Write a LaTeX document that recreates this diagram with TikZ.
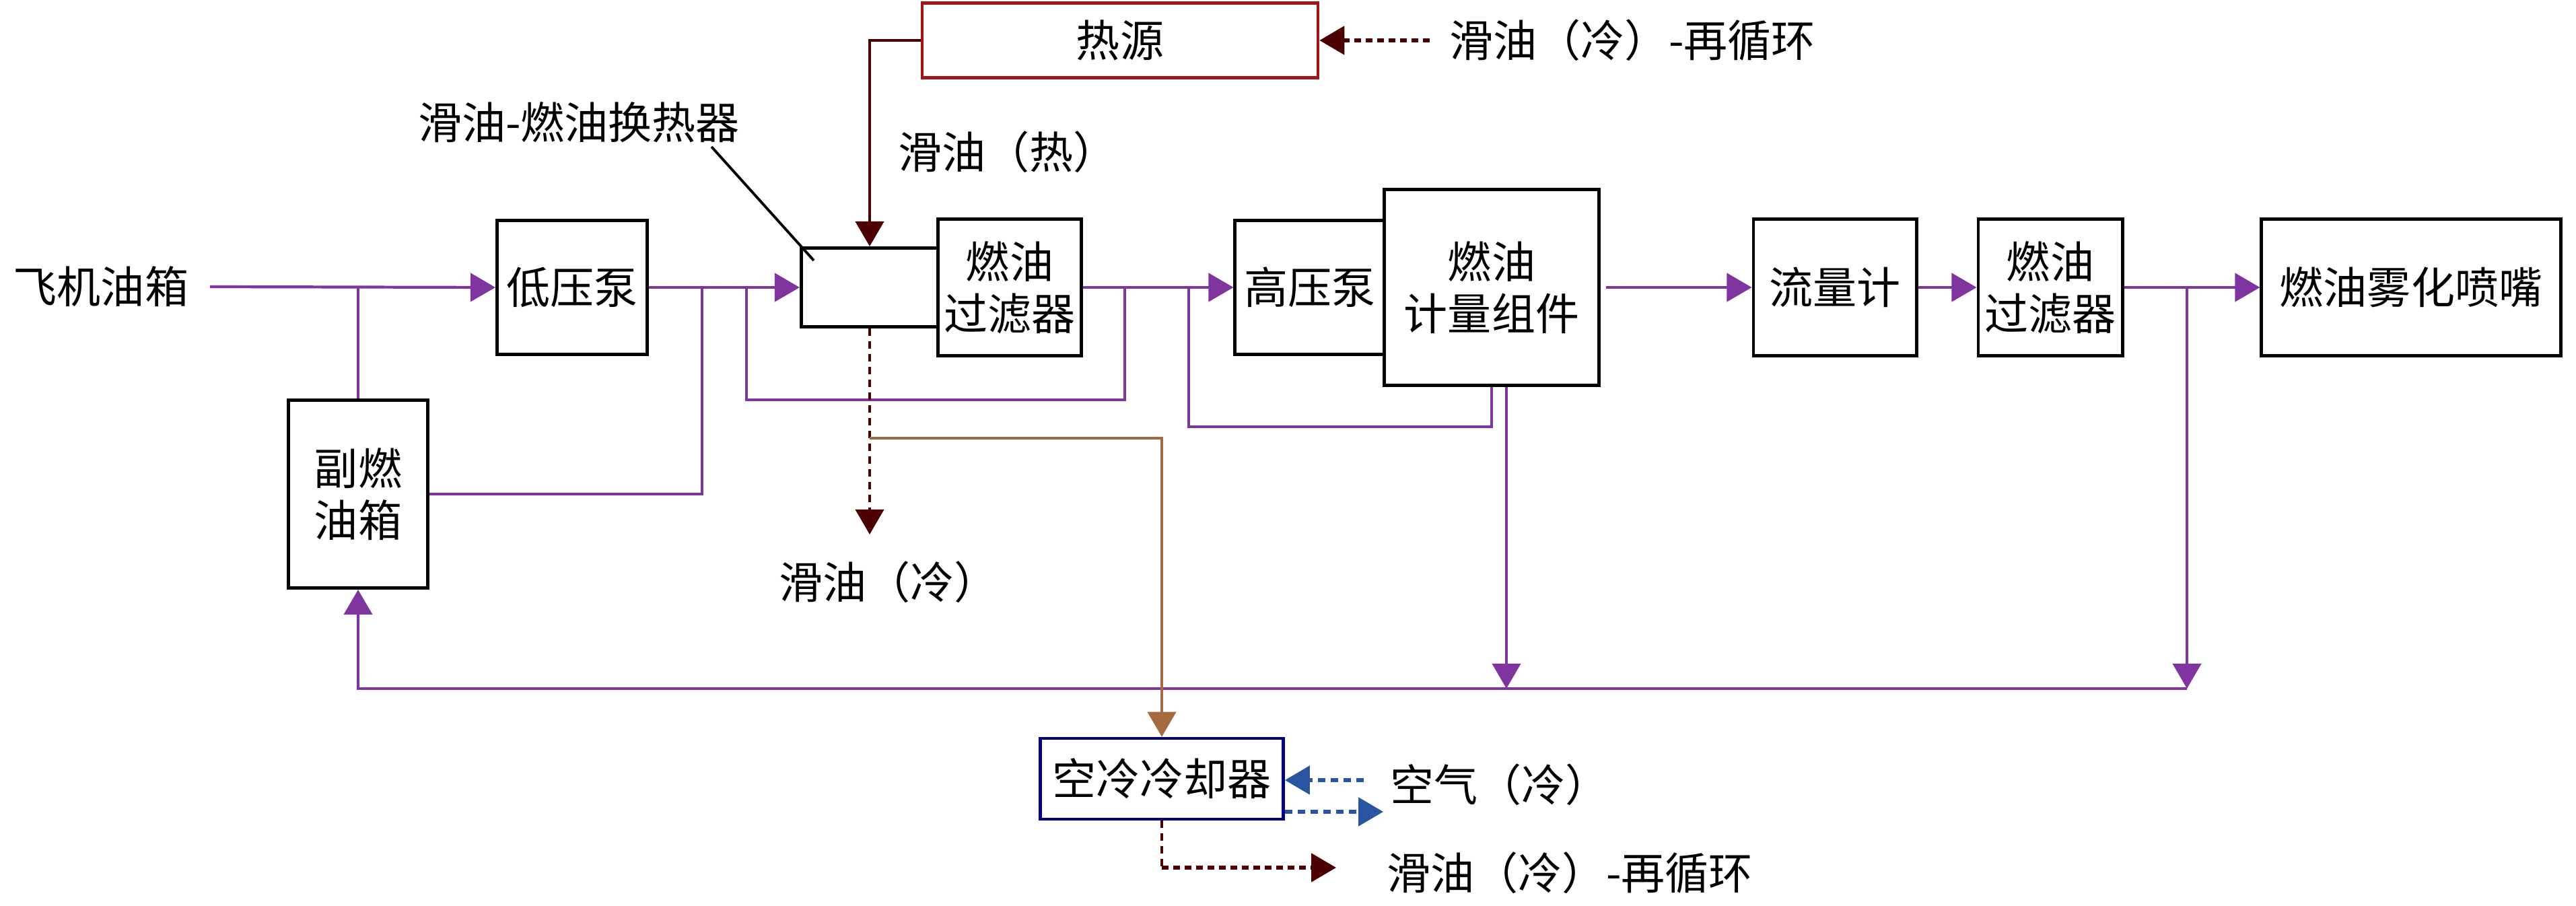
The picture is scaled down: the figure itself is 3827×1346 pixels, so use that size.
\documentclass[tikz,border=0pt]{standalone}
\usepackage{fontspec}
\setmainfont{Noto Sans CJK SC}
\usepackage{tikz}
\usetikzlibrary{arrows.meta, positioning}
\definecolor{fuel}{RGB}{128,52,160}
\definecolor{oildark}{RGB}{77,0,0}
\definecolor{heatred}{RGB}{165,20,20}
\definecolor{oilwarm}{RGB}{166,106,64}
\definecolor{airblue}{RGB}{40,84,160}
\definecolor{coolnavy}{RGB}{0,0,128}

\begin{document}
\begin{tikzpicture}[
  x=0.01cm, y=-0.01cm,
  every node/.style={font=\fontsize{18.5}{22}\selectfont},
  block/.style={draw, line width=1.4pt, inner sep=0pt, align=center, fill=white},
  tag/.style={inner sep=0pt, align=left},
  fuelline/.style={draw=fuel, line width=1.2pt},
  flow/.style={fuelline, ->},
  hotoil/.style={draw=oildark, line width=1.2pt},
  coldoil/.style={draw=oildark, line width=1.1pt, dash pattern=on 0.11cm off 0.08cm},
  recycle/.style={draw=oildark, line width=1.5pt, dash pattern=on 0.1cm off 0.07cm},
  airflow/.style={draw=airblue, line width=1.5pt, dash pattern=on 0.11cm off 0.08cm},
  >={Triangle[length=0.37cm, width=0.42cm]}
]
\useasboundingbox (0,0) rectangle (3827,1346);

% fuel side
\node[tag] (tank) at (150,426) {飞机油箱};
\node[block, minimum width=2.23cm, minimum height=1.99cm] (lp) at (850,427) {低压泵};
\node[block, minimum width=2.06cm, minimum height=2.79cm] (aux) at (532,734) {副燃\\油箱};
\node[block, minimum width=2.03cm, minimum height=1.17cm] (hx) at (1292,427) {};
\node[block, minimum width=2.13cm, minimum height=2.03cm] (f1) at (1500,427) {燃油\\过滤器};
\node[block, minimum width=2.22cm, minimum height=1.99cm] (hp) at (1946,427) {高压泵};
\node[block, minimum width=3.19cm, minimum height=2.91cm] (meter) at (2216,427) {燃油\\计量组件};
\node[block, minimum width=2.42cm, minimum height=2.03cm] (flow) at (2726,427) {流量计};
\node[block, minimum width=2.14cm, minimum height=2.03cm] (f2) at (3046,427) {燃油\\过滤器};
\node[block, minimum width=4.44cm, minimum height=2.03cm] (noz) at (3582,427) {燃油雾化喷嘴};

% oil side
\node[block, draw=heatred, line width=1.2pt, minimum width=5.88cm, minimum height=1.11cm] (heat) at (1664,60) {热源};
\node[block, draw=coolnavy, line width=1.3pt, minimum width=3.61cm, minimum height=1.20cm] (cool) at (1726,1157) {空冷冷却器};

\node[tag] (hxlabel) at (860,182) {滑油-燃油换热器};
\node[tag, anchor=west] (hotlabel) at (1334,226) {滑油（热）};
\node[tag, anchor=west] (coldlabel) at (1157,865) {滑油（冷）};
\node[tag, anchor=west] (topre) at (2153,60) {滑油（冷）-再循环};
\node[tag, anchor=west] (air) at (2065,1166) {空气（冷）};
\node[tag, anchor=west] (botre) at (2060,1297) {滑油（冷）-再循环};

\coordinate (j2) at (1043,427);
\coordinate (j3) at (1109,427);
\coordinate (j4) at (1671,427);
\coordinate (j5) at (1766,427);
\coordinate (j6) at (3249,427);
\coordinate (r1) at (2238,1023);
\coordinate (r2) at (3249,1023);
\coordinate (oc) at (1292,794);
\coordinate (jo) at (1292,651);
\coordinate (ai) at (2026,1159);
\coordinate (ao) at (2055,1206);
\coordinate (ro) at (1985,1289);
\coordinate (ls) at (1057,218);
\coordinate (le) at (1209,387);

% main fuel line
\draw[flow] ([xshift=0.31cm]tank.east) -- (lp.west);
\draw[flow] (lp.east) -- (hx.west);
\draw[flow] (f1.east) -- (hp.west);
\draw[flow] ([xshift=0.08cm]meter.east) -- (flow.west);
\draw[flow] (flow.east) -- (f2.west);
\draw[flow] (f2.east) -- (noz.west);

% bypass and return lines
\draw[fuelline] (aux.north) -- (aux.north |- lp.west);
\draw[fuelline] (aux.east) -| (j2);
\draw[fuelline] (j3) -- ++(0,167) -| (j4);
\draw[fuelline] (j5) -- ++(0,207) -| (meter.south);
\draw[flow] (meter.south -| r1) -- (r1);
\draw[flow] (j6) -- (r2);
\draw[flow] (r2) -| (aux.south);

% lube oil
\draw[hotoil, ->] (heat.west) -| (hx.north);
\draw[recycle, ->] (topre.west) ++(-29,0) -- (heat.east);
\draw[coldoil, ->] (hx.south) -- (oc);
\draw[draw=oilwarm, line width=1.2pt, ->] (jo) -| (cool.north);
\draw[airflow, ->] (ai) -- (ai -| cool.east);
\draw[airflow, ->] (ao -| cool.east) -- (ao);
\draw[coldoil] (cool.south) -- (cool.south |- ro);
\draw[recycle, ->] (cool.south |- ro) -- (ro);

% leader to heat exchanger
\draw[line width=1.1pt] (ls) -- (le);
\end{tikzpicture}
\end{document}
